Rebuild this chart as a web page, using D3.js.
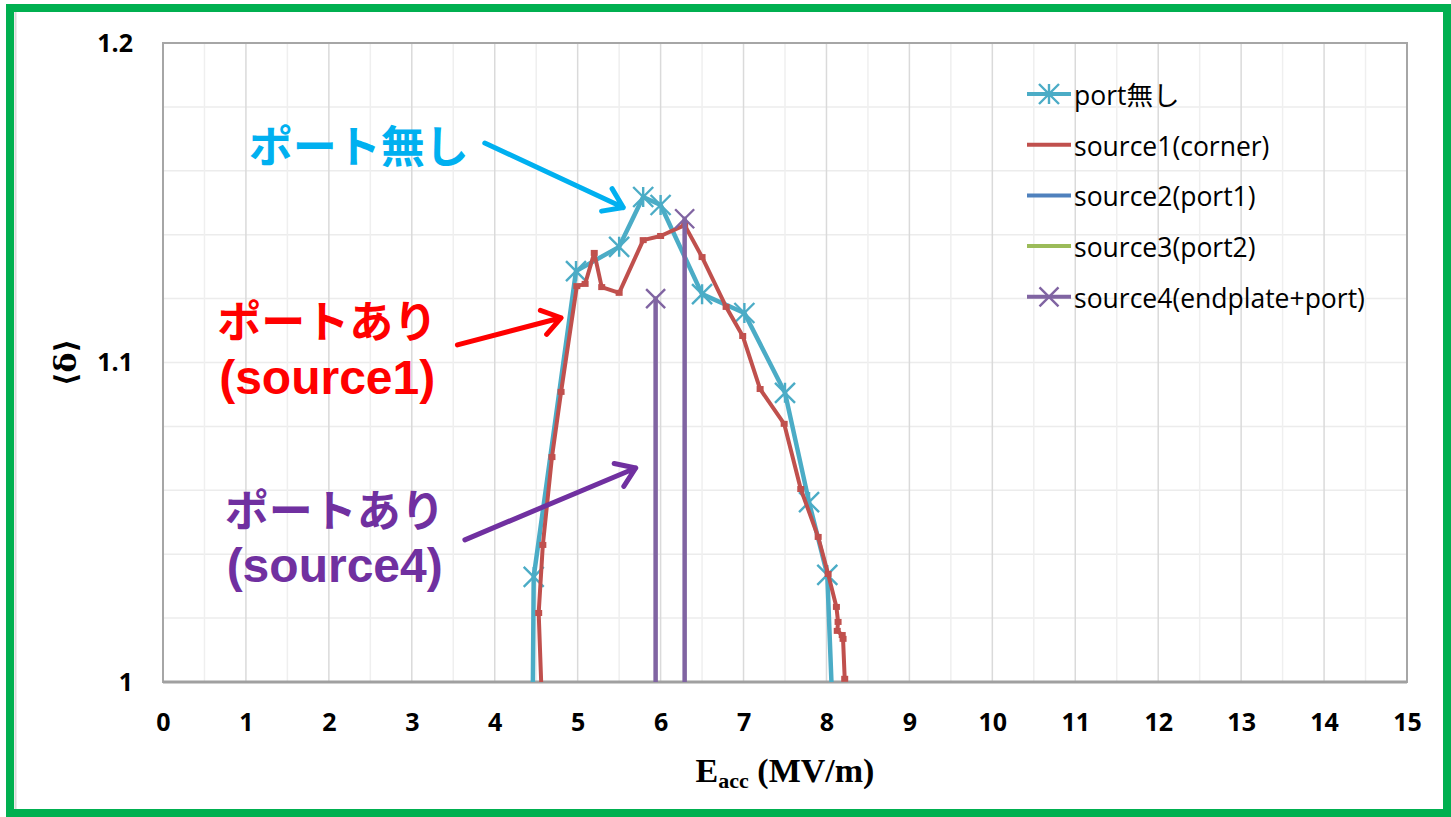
<!DOCTYPE html>
<html>
<head>
<meta charset="utf-8">
<script src="https://cdn.jsdelivr.net/npm/d3@7"></script>
<style>
  body { margin: 0; background: #fff; }
  svg { display: block; }
</style>
</head>
<body>
<div id="chart"></div>
<script>
// values
const eNoPort = [4.46, 4.47, 4.98, 5.50, 5.79, 6.00, 6.50, 7.01, 7.50, 7.79, 8.01, 8.06];
const dNoPort = [1.000, 1.0329, 1.1286, 1.1362, 1.1518, 1.1493, 1.1214, 1.1155, 1.0905, 1.0563, 1.0335, 1.000];

const eSource1 = [4.56, 4.53, 4.58, 4.69, 4.80, 4.99, 5.09, 5.20, 5.29, 5.50, 5.79, 6.00, 6.29, 6.50, 6.79, 6.99, 7.20, 7.49, 7.69, 7.90, 8.02, 8.12, 8.14, 8.13, 8.19, 8.20, 8.22];
const dSource1 = [1.000, 1.0216, 1.0429, 1.0704, 1.0908, 1.1239, 1.1246, 1.1343, 1.1236, 1.1218, 1.1383, 1.1396, 1.1430, 1.1330, 1.1174, 1.1083, 1.0917, 1.0808, 1.0604, 1.0454, 1.0338, 1.0235, 1.0188, 1.0160, 1.0147, 1.0135, 1.001];

// source2 / source3 stay below the axis minimum -> nothing visible
const eSource2 = [];
const dSource2 = [];
const eSource3 = [];
const dSource3 = [];

// source4 only pokes above 1 at two points (rest is below the axis, clipped)
const eSource4 = [5.94, 5.94, 5.94, 6.29, 6.29, 6.29];
const dSource4 = [0.90, 1.120, 0.90, 0.90, 1.145, 0.90];

const seriesNames = ["port無し", "source1(corner)", "source2(port1)", "source3(port2)", "source4(endplate+port)"];
const seriesColors = ["#4bacc6", "#c0504d", "#4f81bd", "#9bbb59", "#8064a2"];
const xTicks = [0, 1, 2, 3, 4, 5, 6, 7, 8, 9, 10, 11, 12, 13, 14, 15];
const yTicks = [1, 1.1, 1.2];

const width = 1451,
      height = 817,
      margin = ({ top: 43, right: 44, bottom: 135, left: 163 });

const svg = d3.select("#chart")
    .append("svg")
    .attr("width", width)
    .attr("height", height);

// green frame round the whole picture
svg.append("rect")
    .attr("x", 10).attr("y", 8)
    .attr("width", width - 14).attr("height", height - 12)
    .attr("fill", "none")
    .attr("stroke", "#00b050")
    .attr("stroke-width", 8);
svg.append("line") // faint inner shadow on left
    .attr("x1", 15.5).attr("x2", 15.5).attr("y1", 12).attr("y2", height - 8)
    .attr("stroke", "#d8d8d8").attr("stroke-width", 2);

const x = d3.scaleLinear()
    .domain([0, 15])
    .range([margin.left, width - margin.right]);

const y = d3.scaleLinear()
    .domain([1, 1.2])
    .range([height - margin.bottom, margin.top]);

// grid lines
svg.append("g")
    .selectAll("line")
    .data(y.ticks(10))
    .join("line")
    .attr("x1", x(0)).attr("x2", x(15))
    .attr("y1", d => y(d)).attr("y2", d => y(d))
    .attr("stroke", "#ececec").attr("stroke-width", 1.5);

svg.append("g")
    .selectAll("line")
    .data(x.ticks(30))
    .join("line")
    .attr("x1", d => x(d)).attr("x2", d => x(d))
    .attr("y1", y(1)).attr("y2", y(1.2))
    .attr("stroke", d => Number.isInteger(d) ? "#dadada" : "#efefef")
    .attr("stroke-width", 1.5);

// plot border
svg.append("rect")
    .attr("x", x(0)).attr("y", y(1.2))
    .attr("width", x(15) - x(0)).attr("height", y(1) - y(1.2))
    .attr("fill", "none")
    .attr("stroke", "#a6a6a6").attr("stroke-width", 2);
svg.append("line")
    .attr("x1", x(0)).attr("x2", x(15)).attr("y1", y(1)).attr("y2", y(1))
    .attr("stroke", "#a0a0a0").attr("stroke-width", 3);

// axes (labels only)
const xAxis = svg.append("g")
    .attr("transform", `translate(0,${y(1)})`)
    .call(d3.axisBottom(x).tickValues(xTicks).tickSize(0).tickPadding(31).tickFormat(d => d));
xAxis.select(".domain").remove();
xAxis.selectAll("text")
    .attr("font-family", "'Open Sans', sans-serif")
    .attr("font-weight", "bold")
    .attr("font-size", 25)
    .attr("fill", "#000");

const yAxis = svg.append("g")
    .attr("transform", `translate(${x(0) - 30},0)`)
    .call(d3.axisLeft(y).tickValues(yTicks).tickSize(0).tickPadding(0).tickFormat(d => String(d)));
yAxis.select(".domain").remove();
yAxis.selectAll("text")
    .attr("font-family", "'Open Sans', sans-serif")
    .attr("font-weight", "bold")
    .attr("font-size", 25)
    .attr("fill", "#000");

// axis titles
const xTitle = svg.append("text")
    .attr("x", (x(0) + x(15)) / 2)
    .attr("y", 782)
    .attr("text-anchor", "middle")
    .attr("font-family", "'Liberation Serif', serif")
    .attr("font-weight", "bold")
    .attr("font-size", 34)
    .attr("fill", "#000");
xTitle.append("tspan").text("E");
xTitle.append("tspan").text("acc").attr("font-size", 22).attr("dy", 6);
xTitle.append("tspan").text(" (MV/m)").attr("dy", -6);

svg.append("text")
    .attr("transform", `translate(76,${y(1.1)}) rotate(-90)`)
    .attr("text-anchor", "middle")
    .attr("font-family", "'DejaVu Serif', serif")
    .attr("font-weight", "bold")
    .attr("font-size", 30)
    .attr("fill", "#000")
    .text("⟨δ⟩");

// series
svg.append("clipPath").attr("id", "plot-clip")
    .append("rect")
    .attr("x", x(0)).attr("y", y(1.2))
    .attr("width", x(15) - x(0)).attr("height", y(1) - y(1.2));

const plot = svg.append("g").attr("clip-path", "url(#plot-clip)");

const series = [
    { es: eNoPort, ds: dNoPort, color: seriesColors[0], w: 4.5, marker: "star" },
    { es: eSource1, ds: dSource1, color: seriesColors[1], w: 4, marker: "dash" },
    { es: eSource2, ds: dSource2, color: seriesColors[2], w: 4, marker: "dash" },
    { es: eSource3, ds: dSource3, color: seriesColors[3], w: 4, marker: "dash" },
    { es: eSource4, ds: dSource4, color: seriesColors[4], w: 4.5, marker: "x" }
];

const line = d3.line().x(d => x(d[0])).y(d => y(d[1]));

function drawMarker(g, kind, color, cx, cy) {
    if (kind === "star" || kind === "x") {
        const r = kind === "star" ? 10 : 9.5;
        const p = d3.path();
        p.moveTo(cx - r, cy - r); p.lineTo(cx + r, cy + r);
        p.moveTo(cx - r, cy + r); p.lineTo(cx + r, cy - r);
        if (kind === "star") { p.moveTo(cx, cy - r); p.lineTo(cx, cy + r); }
        g.append("path").attr("d", p.toString())
            .attr("stroke", color).attr("stroke-width", 2.4).attr("fill", "none");
    } else {
        g.append("rect")
            .attr("x", cx - 3.5).attr("y", cy - 3)
            .attr("width", 7).attr("height", 6)
            .attr("fill", color);
    }
}

series.forEach(s => {
    const pts = s.es.map((e, i) => [e, s.ds[i]]);
    if (!pts.length) return;
    plot.append("path")
        .attr("d", line(pts))
        .attr("fill", "none")
        .attr("stroke", s.color)
        .attr("stroke-width", s.w)
        .attr("stroke-linejoin", "round");
    const mg = plot.append("g");
    pts.filter(p => p[1] > 1.0005)
        .forEach(p => drawMarker(mg, s.marker, s.color, x(p[0]), y(p[1])));
});

// legend
const legend = svg.append("g");
seriesNames.forEach((name, i) => {
    const ly = 94 + i * 50.7;
    const g = legend.append("g");
    g.append("line")
        .attr("x1", 1027).attr("x2", 1071).attr("y1", ly).attr("y2", ly)
        .attr("stroke", seriesColors[i]).attr("stroke-width", 4);
    if (i === 0) drawMarker(g, "star", seriesColors[i], 1049, ly);
    if (i === 4) drawMarker(g, "x", seriesColors[i], 1049, ly);
    g.append("text")
        .attr("x", 1074).attr("y", ly + 1)
        .attr("dominant-baseline", "central")
        .attr("font-family", "'Open Sans', 'Noto Sans CJK JP', sans-serif")
        .attr("font-size", 26.5)
        .attr("fill", "#000")
        .text(name);
});

// annotations (data coordinates)
const notes = [
    { lines: ["ポート無し"], color: "#00b0f0", tx: 2.36, ty: 1.1685, from: [3.88, 1.1687], to: [5.55, 1.1485] },
    { lines: ["ポートあり", "(source1)"], color: "#ff0000", tx: 1.98, ty: 1.1135, from: [3.55, 1.1055], to: [4.8, 1.114] },
    { lines: ["ポートあり", "(source4)"], color: "#7030a0", tx: 2.07, ty: 1.0545, from: [3.64, 1.0445], to: [5.7, 1.067] }
];

notes.forEach(n => {
    n.lines.forEach((t, j) => {
        svg.append("text")
            .attr("x", x(n.tx))
            .attr("y", y(n.ty) + j * 58)
            .attr("text-anchor", "middle")
            .attr("dominant-baseline", "central")
            .attr("font-family", j === 0 ? "'Noto Sans CJK JP', sans-serif" : "'Liberation Sans', Arial, sans-serif")
            .attr("font-weight", "bold")
            .attr("font-size", j === 0 ? 44 : 48)
            .attr("fill", n.color)
            .text(t);
    });
    const x1 = x(n.from[0]), y1 = y(n.from[1]), x2 = x(n.to[0]), y2 = y(n.to[1]);
    const a = Math.atan2(y2 - y1, x2 - x1), len = 22, spread = 0.6;
    const p = d3.path();
    p.moveTo(x1, y1); p.lineTo(x2, y2);
    p.moveTo(x2 - len * Math.cos(a - spread), y2 - len * Math.sin(a - spread));
    p.lineTo(x2, y2);
    p.lineTo(x2 - len * Math.cos(a + spread), y2 - len * Math.sin(a + spread));
    svg.append("path")
        .attr("d", p.toString())
        .attr("fill", "none")
        .attr("stroke", n.color)
        .attr("stroke-width", 5)
        .attr("stroke-linecap", "round")
        .attr("stroke-linejoin", "round");
});
</script>
</body>
</html>
